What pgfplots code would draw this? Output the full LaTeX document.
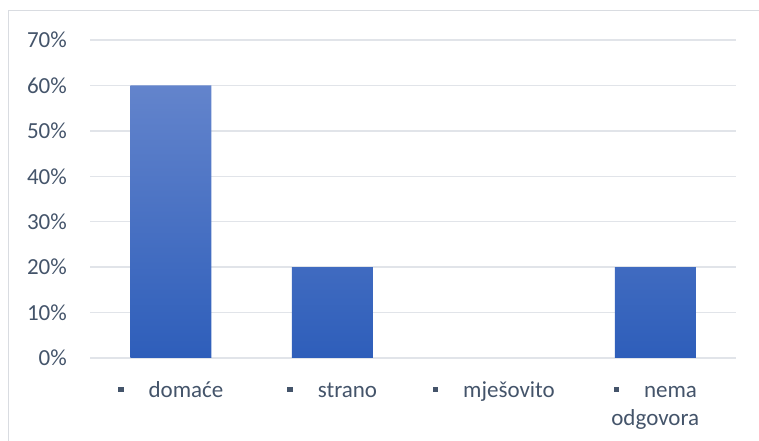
\documentclass[border=0pt]{standalone}
\usepackage{pgfplots}
\pgfplotsset{compat=1.18}
\usepackage{fontspec}
\setmainfont{Carlito}
\definecolor{txt}{HTML}{44546A}
\definecolor{gridc}{HTML}{E1E4E9}
\definecolor{framec}{HTML}{D9DCE1}
\definecolor{bartop}{HTML}{6384CC}
\definecolor{barmid}{HTML}{4471C7}
\definecolor{barbot}{HTML}{2E5EBA}
% bullet in front of each category
\newcommand{\sq}{\strut\raisebox{5bp}{\rule{5.5bp}{5.5bp}}\hspace{25bp}}
\begin{document}
\begin{tikzpicture}
\path[use as bounding box] (0,0) rectangle (759bp,441bp);
\draw[framec, line width=1bp] (8.5bp,0) -- (8.5bp,430.5bp) -- (759bp,430.5bp);
\begin{axis}[
    at={(90bp,83bp)}, anchor=south west,
    scale only axis, width=646bp, height=318bp,
    ymin=0, ymax=70, xmin=-0.5, xmax=3.5,
    ytick={0,10,...,70}, xtick={0,1,2,3},
    xticklabels={{\sq domaće},{\sq strano},{\sq mješovito},{\sq nema\\\strut odgovora}},
    yticklabel={\pgfmathprintnumber[assume math mode=true]{\tick}\%},
    ymajorgrids, grid style={gridc, line width=1.5bp},
    axis x line*=bottom, axis y line*=left,
    x axis line style={gridc, line width=1.5bp, -},
    y axis line style={draw=none},
    major tick length=0pt,
    tick label style={font=\fontsize{23bp}{28bp}\selectfont, text=txt},
    yticklabel style={anchor=east, inner sep=0pt, xshift=-23bp},
    xticklabel style={anchor=north, inner sep=0pt, align=center, yshift=-19.4bp},
    ybar, bar width=81bp,
]
  % mjesovito is 0 %, so it has no bar
  \addplot[draw=none, top color=bartop, middle color=barmid, bottom color=barbot]
    coordinates {(0,60) (1,20) (3,20)};
\end{axis}
\end{tikzpicture}
\end{document}
